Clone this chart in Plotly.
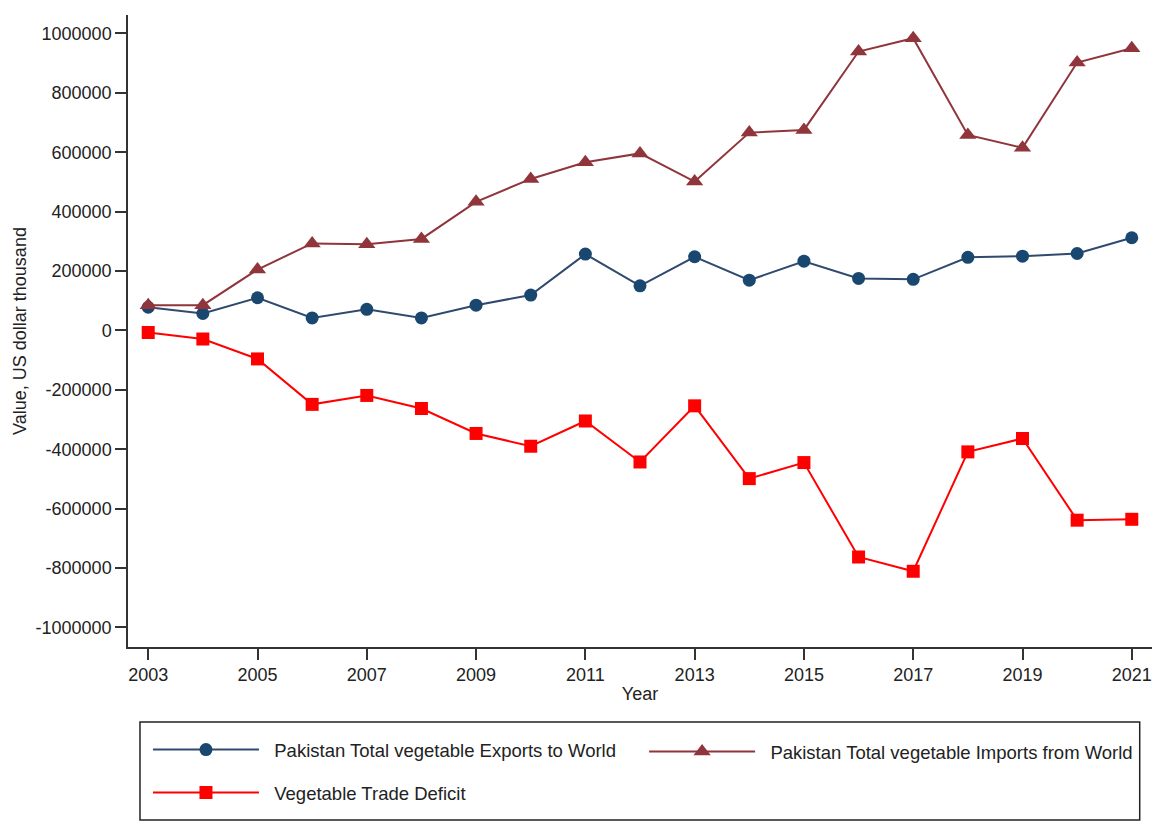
import plotly.graph_objects as go

years = list(range(2003, 2022))
exports = [78000, 57000, 110000, 42000, 71000, 42000, 85000, 119000, 257000, 150000,
           248000, 169000, 233000, 175000, 172000, 246000, 250000, 259000, 312000]
imports = [85000, 85000, 205000, 293000, 290000, 308000, 433000, 510000, 566000, 596000,
           501000, 666000, 675000, 939000, 984000, 658000, 615000, 902000, 950000]
deficit = [-7000, -29000, -96000, -249000, -219000, -263000, -347000, -390000, -305000, -443000,
           -254000, -499000, -445000, -763000, -811000, -409000, -364000, -639000, -636000]

x_ticks = [2003, 2005, 2007, 2009, 2011, 2013, 2015, 2017, 2019, 2021]
y_ticks = [-1000000, -800000, -600000, -400000, -200000, 0, 200000, 400000, 600000, 800000, 1000000]
y_tick_text = ["-1000000", "-800000", "-600000", "-400000", "-200000", "0",
               "200000", "400000", "600000", "800000", "1000000"]

FONT = "Liberation Sans, Arial, sans-serif"
NB = "\u00a0\u00a0"

fig = go.Figure()
fig.add_trace(go.Scatter(
    x=years, y=exports, mode="lines+markers",
    name=NB + "Pakistan Total vegetable Exports to World",
    line=dict(color="#2f4a6e", width=2),
    marker=dict(symbol="circle", size=13, color="#1a476f"),
    legend="legend",
))
fig.add_trace(go.Scatter(
    x=years, y=imports, mode="lines+markers",
    name=NB + "Pakistan Total vegetable Imports from World",
    line=dict(color="#90353b", width=2),
    marker=dict(symbol="triangle-up", size=15, color="#90353b"),
    legend="legend2",
))
fig.add_trace(go.Scatter(
    x=years, y=deficit, mode="lines+markers",
    name=NB + "Vegetable Trade Deficit",
    line=dict(color="#ff0000", width=2),
    marker=dict(symbol="square", size=13, color="#ff0000"),
    legend="legend3",
))

leg_common = dict(
    orientation="h",
    xanchor="left", yanchor="middle",
    bgcolor="rgba(0,0,0,0)", borderwidth=0,
    font=dict(size=18.5, family=FONT, color="#222"),
    itemwidth=106,
)

fig.update_layout(
    width=1162, height=822,
    paper_bgcolor="white", plot_bgcolor="white",
    margin=dict(l=120, r=18, t=7, b=183),
    font=dict(family=FONT, size=18, color="#222"),
    showlegend=True,
    legend=dict(x=0.0195, y=-0.163, **leg_common),
    legend2=dict(x=0.504, y=-0.166, **leg_common),
    legend3=dict(x=0.0195, y=-0.231, **leg_common),
    shapes=[dict(
        type="rect", xref="paper", yref="paper",
        x0=0.0117, x1=0.988, y0=-0.2737, y1=-0.1187,
        line=dict(color="#222", width=1.5), fillcolor="rgba(0,0,0,0)",
    )],
)
fig.update_xaxes(
    range=[2002.63, 2021.37],
    tickmode="array", tickvals=x_ticks,
    ticks="outside", ticklen=11, tickcolor="#333", tickwidth=1.5,
    showline=True, linecolor="#333", linewidth=1.5,
    showgrid=False, zeroline=False,
    title=dict(text="Year", font=dict(size=18), standoff=3),
    tickfont=dict(size=18),
)
fig.update_yaxes(
    range=[-1066000, 1062000],
    tickmode="array", tickvals=y_ticks, ticktext=y_tick_text,
    ticks="outside", ticklen=11, tickcolor="#333", tickwidth=1.5,
    showline=True, linecolor="#333", linewidth=1.5,
    showgrid=False, zeroline=False,
    title=dict(text="Value, US dollar thousand", font=dict(size=18), standoff=4),
    tickfont=dict(size=18),
)

fig.write_html("out.html")
